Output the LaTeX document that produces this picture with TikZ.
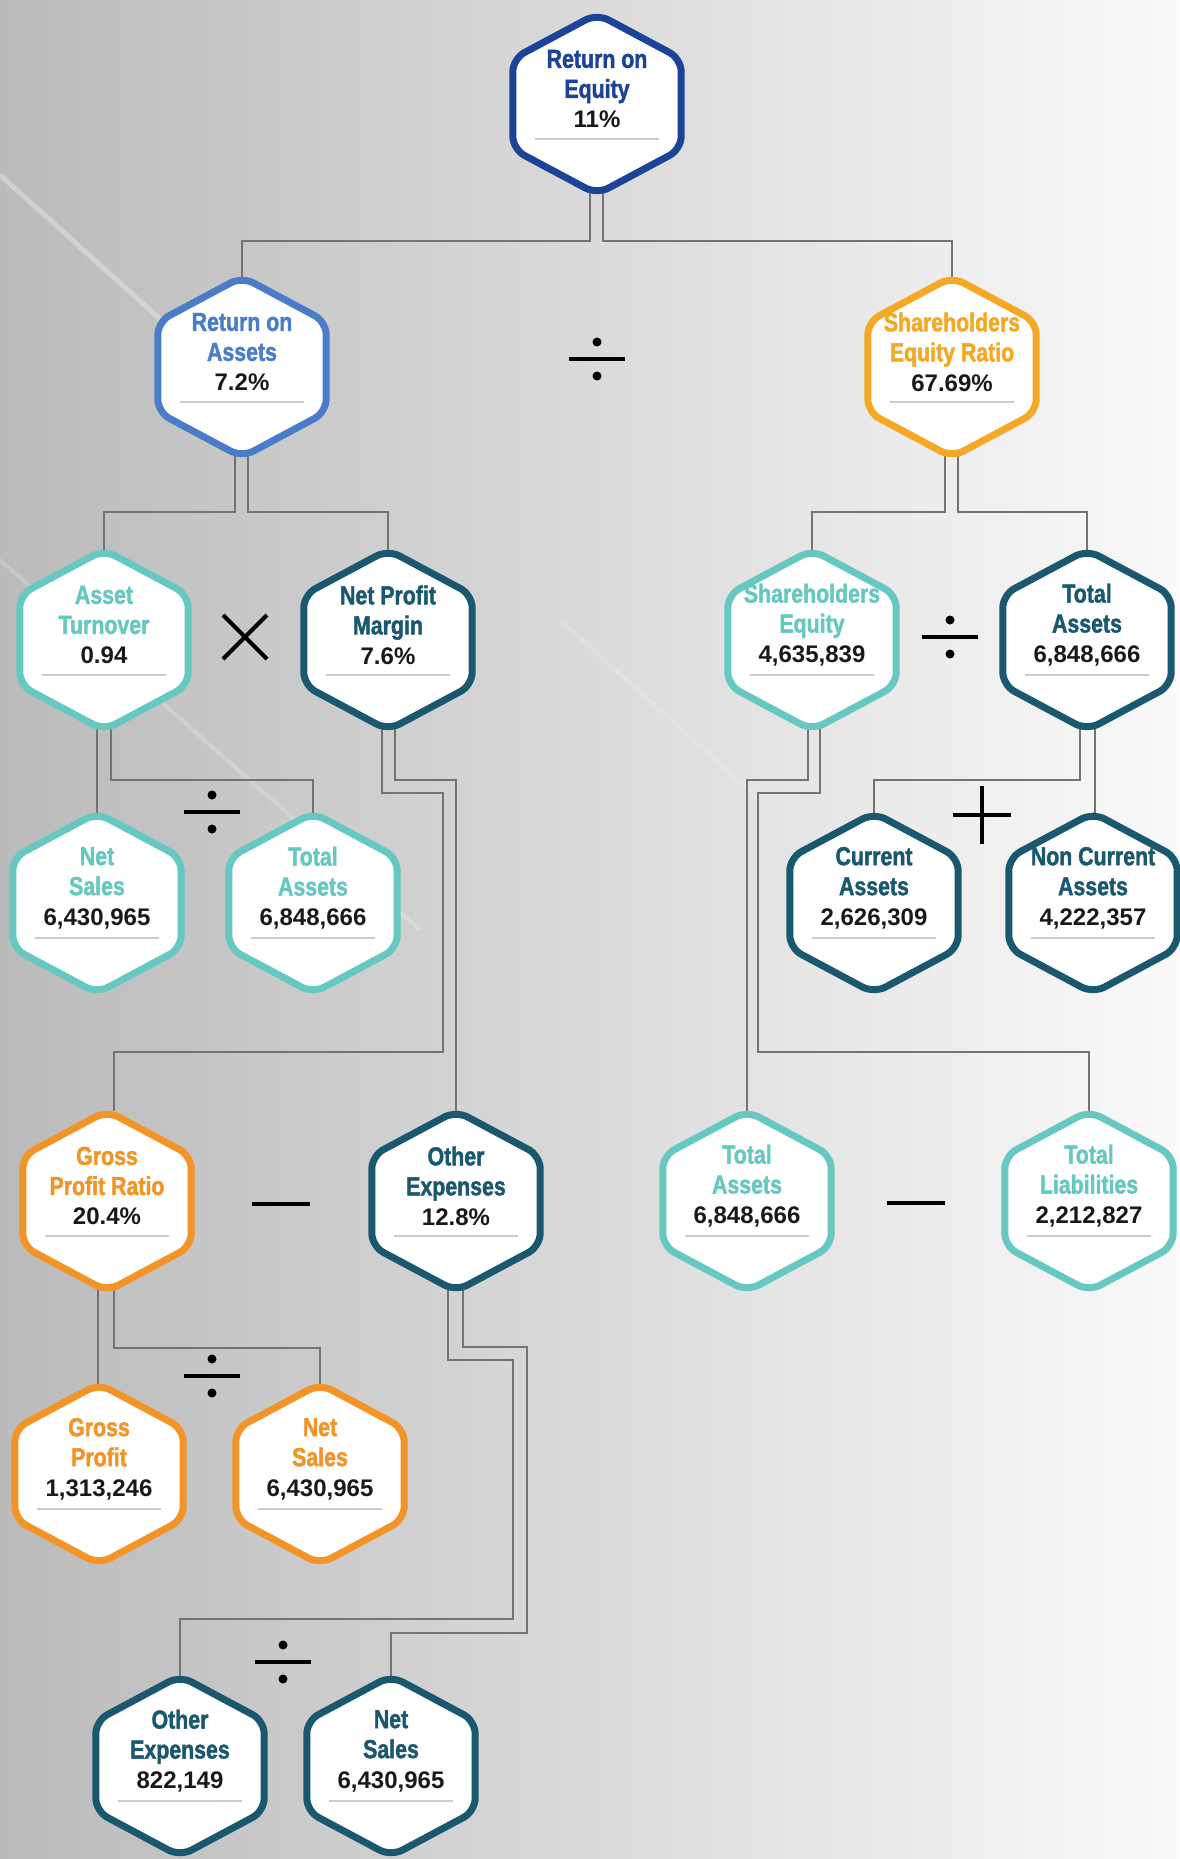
\documentclass[tikz,border=0pt]{standalone}
\usepackage{fontspec}
\setmainfont{Liberation Sans}
\newfontfamily\narrowfont{Liberation Sans Bold}[FakeStretch=0.82, FakeBold=1.6]

\definecolor{roeblue}{RGB}{28,68,150}
\definecolor{roablue}{RGB}{74,125,200}
\definecolor{hexgold}{RGB}{244,168,35}
\definecolor{lteal}{RGB}{102,200,192}
\definecolor{dteal}{RGB}{26,88,112}
\definecolor{hexorange}{RGB}{242,148,40}

\pgfdeclarelayer{back}
\pgfdeclarelayer{links}
\pgfsetlayers{back,links,main}

\tikzset{
	hexbox/.style={minimum width=168pt, minimum height=180pt, inner sep=0pt},
	hexline/.style={line width=7pt, rounded corners=13pt, fill=white, line join=round},
	hextext/.style={align=center, inner sep=0pt, font=\fontsize{26}{30}\selectfont},
	link/.style={draw=black!55, line width=2pt},
	sepline/.style={draw=black!20, line width=1.5pt},
	opline/.style={draw=black, line width=4.5pt}
}

\begin{document}
\begin{tikzpicture}[x=1pt,y=1pt]
		\useasboundingbox (0,0) rectangle (1179,-1859);
		\begin{pgfonlayer}{back}
			\shade[left color=black!27, middle color=black!14, right color=black!2] (0,0) rectangle (1179,-1859);
			% light streaks
			\draw[white, opacity=.3, line width=5pt] (0,-175) -- (250,-400);
			\draw[white, opacity=.2, line width=4pt] (0,-560) -- (420,-930);
			\draw[white, opacity=.15, line width=4pt] (560,-620) -- (760,-800);
		\end{pgfonlayer}
		
		% hexagons
		\foreach \n/\x/\y/\col/\ta/\tb/\val in {
			roe/597/104/roeblue/Return on/Equity/11\%,
			roa/242/367/roablue/Return on/Assets/7.2\%,
			ser/952/367/hexgold/Shareholders/Equity Ratio/67.69\%,
			at/104/640/lteal/Asset/Turnover/0.94,
			npm/388/640/dteal/Net Profit/Margin/7.6\%,
			se/812/640/lteal/Shareholders/Equity/{4,635,839},
			ta2/1087/640/dteal/Total/Assets/{6,848,666},
			ns1/97/903/lteal/Net/Sales/{6,430,965},
			ta1/313/903/lteal/Total/Assets/{6,848,666},
			ca/874/903/dteal/Current/Assets/{2,626,309},
			nca/1093/903/dteal/Non Current/Assets/{4,222,357},
			gpr/107/1201/hexorange/Gross/Profit Ratio/20.4\%,
			oe1/456/1201/dteal/Other/Expenses/12.8\%,
			ta3/747/1201/lteal/Total/Assets/{6,848,666},
			tl/1089/1201/lteal/Total/Liabilities/{2,212,827},
			gp/99/1474/hexorange/Gross/Profit/{1,313,246},
			ns2/320/1474/hexorange/Net/Sales/{6,430,965},
			oe2/180/1766/dteal/Other/Expenses/{822,149},
			ns3/391/1766/dteal/Net/Sales/{6,430,965}}{
			\node[hexbox] (\n) at (\x,-\y) {};
			\draw[hexline, draw=\col] (\n.east) -- ([yshift=45pt]\n.south east) -- (\n.south)
				-- ([yshift=45pt]\n.south west) -- ([yshift=-45pt]\n.north west) -- (\n.north)
				-- ([yshift=-45pt]\n.north east) -- cycle;
			\draw[sepline] ([xshift=-62pt,yshift=-35pt]\n.center) -- ([xshift=62pt,yshift=-35pt]\n.center);
			\node[hextext] (\n-t) at ([yshift=15pt]\n.center)
				{{\color{\col}\narrowfont \ta}\\{\color{\col}\narrowfont \tb}\\{\fontsize{24}{30}\selectfont\bfseries\color{black!90}\val}};
		}
		
		\begin{pgfonlayer}{links}
			% row 1 -> row 2
			\draw[link] ([xshift=-7pt,yshift=15pt]roe.south) -- ++(0,-62) -| (roa.north);
			\draw[link] ([xshift=6pt,yshift=15pt]roe.south) -- ++(0,-62) -| (ser.north);
			% row 2 -> row 3
			\draw[link] ([xshift=-7pt,yshift=15pt]roa.south) -- ++(0,-70) -| (at.north);
			\draw[link] ([xshift=6pt,yshift=15pt]roa.south) -- ++(0,-70) -| (npm.north);
			\draw[link] ([xshift=-7pt,yshift=15pt]ser.south) -- ++(0,-70) -| (se.north);
			\draw[link] ([xshift=6pt,yshift=15pt]ser.south) -- ++(0,-70) -| (ta2.north);
			% asset turnover
			\draw[link] ([xshift=-7pt,yshift=15pt]at.south) |- (ns1.north);
			\draw[link] ([xshift=7pt,yshift=15pt]at.south) -- ++(0,-65) -| (ta1.north);
			% net profit margin
			\draw[link] ([xshift=-6pt,yshift=15pt]npm.south) -- ++(0,-78) -- ++(61,0) -- ++(0,-259) -| ([xshift=7pt]gpr.north);
			\draw[link] ([xshift=7pt,yshift=15pt]npm.south) -- ++(0,-65) -| (oe1.north);
			% shareholders equity
			\draw[link] ([xshift=-4pt,yshift=15pt]se.south) -- ++(0,-65) -| (ta3.north);
			\draw[link] ([xshift=8pt,yshift=15pt]se.south) -- ++(0,-78) -- ++(-62,0) -- ++(0,-259) -| (tl.north);
			% total assets
			\draw[link] ([xshift=-7pt,yshift=15pt]ta2.south) -- ++(0,-65) -| (ca.north);
			\draw[link] ([xshift=8pt,yshift=15pt]ta2.south) |- (nca.north);
			% gross profit ratio
			\draw[link] ([xshift=-9pt,yshift=15pt]gpr.south) |- (gp.north);
			\draw[link] ([xshift=7pt,yshift=15pt]gpr.south) -- ++(0,-72) -| (ns2.north);
			% other expenses
			\draw[link] ([xshift=-8pt,yshift=15pt]oe1.south) -- ++(0,-84) -- ++(65,0) -- ++(0,-259) -| (oe2.north);
			\draw[link] ([xshift=7pt,yshift=15pt]oe1.south) -- ++(0,-71) -- ++(64,0) -- ++(0,-286) -| (ns3.north);
		\end{pgfonlayer}
		
		% operators
		\foreach \x/\y in {597/359, 950/637, 212/812, 212/1376, 283/1662}{
			\draw[opline] (\x-28,-\y) -- (\x+28,-\y);
			\fill (\x,-\y+17) circle (4.5pt);
			\fill (\x,-\y-17) circle (4.5pt);
		}
		\draw[opline, line width=4pt] (223,-615) -- (267,-659);
		\draw[opline, line width=4pt] (223,-659) -- (267,-615);
		\draw[opline, line width=4pt] (953,-815) -- (1011,-815);
		\draw[opline, line width=4pt] (982,-786) -- (982,-844);
		\foreach \x/\y in {281/1204, 916/1203}
			\draw[opline] (\x-29,-\y) -- (\x+29,-\y);
\end{tikzpicture}
\end{document}
